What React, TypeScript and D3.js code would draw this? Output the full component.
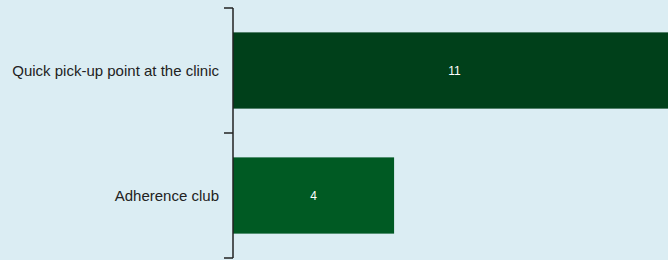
import * as d3 from 'd3';

const categories = ['Quick pick-up point at the clinic', 'Adherence club'];
const values = [11, 4];
const barColors = ['#00401a', '#005a23'];

const W = 668, H = 260;
const X0 = 233, X1 = 676, Y0 = 8, Y1 = 258;

export default function App() {
  const x = d3.scaleLinear().domain([0, 11]).range([X0, X1]);
  const y = d3.scaleBand<string>()
    .domain(categories)
    .range([Y0, Y1])
    .paddingInner(0.39)
    .paddingOuter(0.195);
  const step = y.step();
  const tickYs = d3.range(categories.length + 1).map((i) => Y0 + i * step);

  return (
    <svg width={W} height={H} style={{ position: 'absolute', left: 0, top: 0, background: '#dbedf3' }}
      fontFamily="'Liberation Sans', Arial, sans-serif">
      <rect x={0} y={0} width={W} height={H} fill="#dbedf3" />
      {categories.map((c, i) => (
        <g key={c}>
          <rect x={x(0)} y={y(c)} width={x(values[i]) - x(0)} height={y.bandwidth()} fill={barColors[i]} />
          <text x={(x(0) + x(values[i])) / 2} y={y(c)! + y.bandwidth() / 2} dy="0.35em"
            textAnchor="middle" fontSize={12} fill="#ffffff">{values[i]}</text>
          <text x={X0 - 14} y={y(c)! + y.bandwidth() / 2} dy="0.35em"
            textAnchor="end" fontSize={15} fill="#222">{c}</text>
        </g>
      ))}
      <line x1={X0} x2={X0} y1={Y0} y2={Y1} stroke="#222" strokeWidth={1.5} />
      {tickYs.map((t) => (
        <line key={t} x1={X0 - 9} x2={X0} y1={t} y2={t} stroke="#222" strokeWidth={1.5} />
      ))}
    </svg>
  );
}
